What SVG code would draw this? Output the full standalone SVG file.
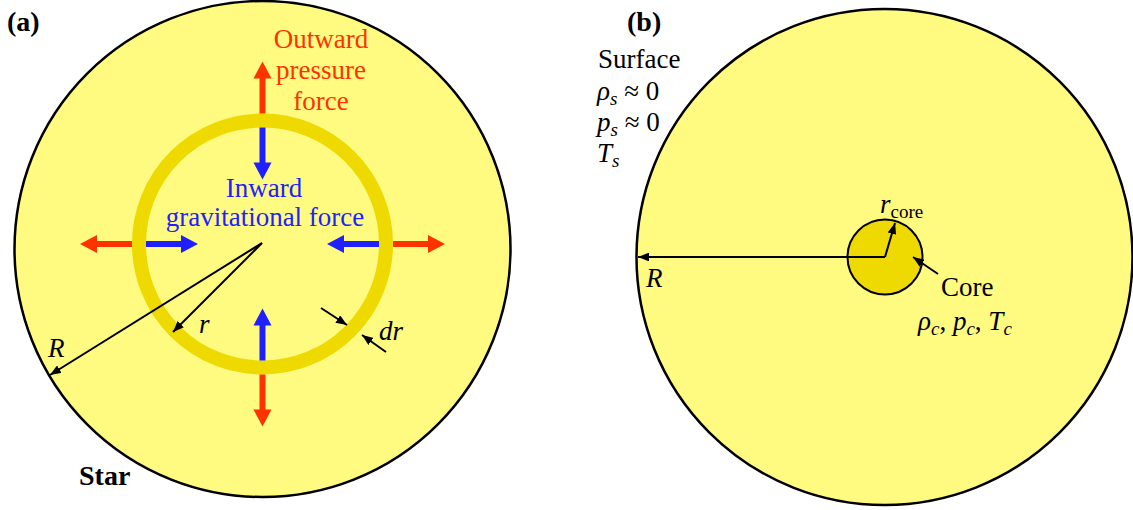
<svg xmlns="http://www.w3.org/2000/svg" width="1133" height="510" viewBox="0 0 1133 510" font-family="'Liberation Serif', 'Times New Roman', serif">
<style>
text{font-family:'Liberation Serif','Times New Roman',serif;font-size:27px;fill:#000}
.b{font-weight:bold;font-size:28px}
.i{font-style:italic}
.red{fill:#ff3300}
.blue{fill:#1f1fff}
.thin{stroke:#000;stroke-width:2;fill:none;marker-end:url(#ah)}
</style>
<defs>
<marker id="ah" viewBox="0 0 10 8" refX="10" refY="4" markerWidth="5.5" markerHeight="4.4" orient="auto" markerUnits="strokeWidth">
<path d="M0,0 L10,4 L0,8 Z" fill="#000"/>
</marker>
<path id="fa" d="M0,-3 H35 V-9 L52,0 L35,9 V3 H0 Z"/>
</defs>
<rect width="1133" height="510" fill="#fff"/>

<g id="panel-a">
<g id="star-a">
<circle cx="262.5" cy="249" r="248" fill="#fffa80" stroke="#000" stroke-width="2.5"/>
</g>
<g id="shell">
<circle cx="262.5" cy="244" r="123.5" fill="none" stroke="#eed900" stroke-width="14"/>
</g>
<g id="force-arrows">
<use href="#fa" class="red" transform="translate(262.5,113.5) rotate(-90)"/>
<use href="#fa" class="red" transform="translate(262.5,374.5) rotate(90)"/>
<use href="#fa" class="red" transform="translate(132,244) rotate(180)"/>
<use href="#fa" class="red" transform="translate(393,244)"/>
<use href="#fa" class="blue" transform="translate(262.5,127.5) rotate(90)"/>
<use href="#fa" class="blue" transform="translate(262.5,360.5) rotate(-90)"/>
<use href="#fa" class="blue" transform="translate(146,244)"/>
<use href="#fa" class="blue" transform="translate(379,244) rotate(180)"/>
</g>
<g id="connectors-a">
<line class="thin" x1="262" y1="243" x2="50" y2="375"/>
<line class="thin" x1="262" y1="243" x2="173" y2="332"/>
<line class="thin" x1="321" y1="308" x2="347" y2="325"/>
<line class="thin" x1="386" y1="352" x2="362" y2="335"/>
</g>
<g id="labels-a">
<text class="b" x="7" y="31">(a)</text>
<text class="red" x="321" y="48" text-anchor="middle">Outward</text>
<text class="red" x="321" y="79" text-anchor="middle">pressure</text>
<text class="red" x="321" y="110" text-anchor="middle">force</text>
<text class="blue" x="264" y="197" text-anchor="middle">Inward</text>
<text class="blue" x="265" y="226" text-anchor="middle">gravitational force</text>
<text class="i" x="199" y="333">r</text>
<text class="i" x="379" y="340">dr</text>
<text class="i" x="48" y="357">R</text>
<text class="b" x="79" y="485">Star</text>
</g>
</g>

<g id="panel-b">
<g id="star-b">
<circle cx="884.5" cy="257" r="248" fill="#fffa80" stroke="#000" stroke-width="2.5"/>
</g>
<g id="core">
<circle cx="885" cy="257" r="37.5" fill="#eed900" stroke="#000" stroke-width="2"/>
</g>
<g id="connectors-b">
<line class="thin" x1="885" y1="257" x2="638" y2="257"/>
<line class="thin" x1="885" y1="257" x2="895" y2="223"/>
<line class="thin" x1="938" y1="274" x2="913" y2="257"/>
</g>
<g id="labels-b">
<text class="b" x="627" y="31">(b)</text>
<text x="598" y="68">Surface</text>
<text x="597" y="100"><tspan class="i">ρ</tspan><tspan class="i" font-size="19" dy="5">s</tspan><tspan dy="-5"> ≈ 0</tspan></text>
<text x="597" y="131"><tspan class="i">p</tspan><tspan class="i" font-size="19" dy="5">s</tspan><tspan dy="-5"> ≈ 0</tspan></text>
<text x="597" y="162"><tspan class="i">T</tspan><tspan class="i" font-size="19" dy="5">s</tspan></text>
<text class="i" x="646" y="287">R</text>
<text x="880" y="213"><tspan class="i">r</tspan><tspan font-size="19" dy="5">core</tspan></text>
<text x="941" y="296">Core</text>
<text x="918" y="330"><tspan class="i">ρ</tspan><tspan class="i" font-size="19" dy="5">c</tspan><tspan dy="-5">, </tspan><tspan class="i">p</tspan><tspan class="i" font-size="19" dy="5">c</tspan><tspan dy="-5">, </tspan><tspan class="i">T</tspan><tspan class="i" font-size="19" dy="5">c</tspan></text>
</g>
</g>
</svg>
